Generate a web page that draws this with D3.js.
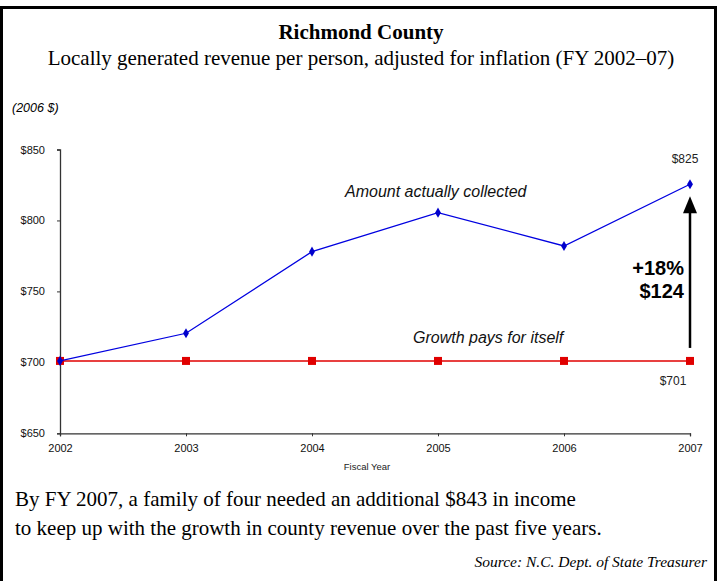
<!DOCTYPE html>
<html><head><meta charset="utf-8">
<script src="https://cdn.jsdelivr.net/npm/d3@7"></script>
<style>body{margin:0;background:#fff}svg{display:block}</style>
</head><body>
<script>
const years = [2002, 2003, 2004, 2005, 2006, 2007];
const collected = [701, 720.5, 778, 805.5, 782, 825.5];
const growthPays = [701, 701, 701, 701, 701, 701];
const yTicks = [650, 700, 750, 800, 850];

const W = 723, H = 581;
const svg = d3.select("body").append("svg").attr("width", W).attr("height", H);
svg.append("rect").attr("x",0).attr("y",0).attr("width",W).attr("height",H).attr("fill","#fff");
// frame
svg.append("rect").attr("x",1.5).attr("y",7.5).attr("width",714).attr("height",580)
  .attr("fill","none").attr("stroke","#000").attr("stroke-width",3);

const x = d3.scaleLinear().domain([2002, 2007]).range([60, 690]);
const y = d3.scaleLinear().domain([650, 850]).range([433.3, 149.5]);

const serif = "'Liberation Serif', 'DejaVu Serif', serif";
const sans = "'Liberation Sans', Arial, sans-serif";

svg.append("text").attr("x", 361).attr("y", 39).attr("text-anchor","middle")
  .style("font-family", serif).style("font-weight","bold").style("font-size","21px").text("Richmond County");
svg.append("text").attr("x", 361).attr("y", 65).attr("text-anchor","middle")
  .style("font-family", serif).style("font-size","21px").text("Locally generated revenue per person, adjusted for inflation (FY 2002–07)");
svg.append("text").attr("x", 12).attr("y", 112)
  .style("font-family", sans).style("font-style","italic").style("font-size","12.5px").text("(2006 $)");

// axes
const gy = svg.append("g").attr("transform", `translate(${x(2002)},0)`)
  .call(d3.axisLeft(y).tickValues(yTicks).tickSize(3).tickPadding(12).tickFormat(d => "$" + d));
const gx = svg.append("g").attr("transform", `translate(0,${y(650)})`)
  .call(d3.axisBottom(x).tickValues(years).tickSize(3).tickPadding(8).tickFormat(d3.format("d")));
[gx, gy].forEach(g => {
  g.select(".domain").attr("stroke", "#333").attr("stroke-width", 1.3);
  g.selectAll(".tick line").attr("stroke", "#333");
  g.selectAll("text").style("font-family", sans).style("font-size", "11px").attr("fill", "#111");
});
svg.append("text").attr("x", 367).attr("y", 470).attr("text-anchor","middle")
  .style("font-family", sans).style("font-size","9.5px").attr("fill","#222").text("Fiscal Year");

// red line
const line = d3.line().x((d,i) => x(years[i])).y(d => y(d));
svg.append("path").datum(growthPays).attr("d", line).attr("fill","none").attr("stroke","#e00000").attr("stroke-width",1.4);
svg.selectAll(".sq").data(growthPays).enter().append("rect")
  .attr("x",(d,i)=>x(years[i])-4).attr("y",d=>y(d)-4).attr("width",8).attr("height",8).attr("fill","#e00000");
// blue line
svg.append("path").datum(collected).attr("d", line).attr("fill","none").attr("stroke","#0000e0").attr("stroke-width",1.3);
svg.selectAll(".dm").data(collected).enter().append("path")
  .attr("d", d3.symbol().type(d3.symbolDiamond).size(30))
  .attr("transform",(d,i)=>`translate(${x(years[i])},${y(d)})`).attr("fill","#0000cc");

// labels
svg.append("text").attr("x", 345).attr("y", 197).style("font-family", sans).style("font-style","italic")
  .style("font-size","16px").attr("fill","#111").text("Amount actually collected");
svg.append("text").attr("x", 413).attr("y", 343).style("font-family", sans).style("font-style","italic")
  .style("font-size","16px").attr("fill","#111").text("Growth pays for itself");
svg.append("text").attr("x", x(2007)-5).attr("y", 163).attr("text-anchor","middle")
  .style("font-family", sans).style("font-size","12px").attr("fill","#222").text("$" + Math.round(collected[5] - 0.5));
svg.append("text").attr("x", x(2007)-17).attr("y", 385).attr("text-anchor","middle")
  .style("font-family", sans).style("font-size","12px").attr("fill","#222").text("$" + growthPays[5]);

// arrow
const ax = x(2007);
svg.append("line").attr("x1", ax).attr("x2", ax).attr("y1", y(701) - 13).attr("y2", y(825.5) + 26)
  .attr("stroke","#000").attr("stroke-width",2.5);
const tipY = y(825.5) + 12;
svg.append("path").attr("d", `M${ax},${tipY} L${ax-7},${tipY+17} L${ax+7},${tipY+17} Z`).attr("fill","#000");
svg.append("text").attr("x", 684).attr("y", 275).attr("text-anchor","end")
  .style("font-family", sans).style("font-weight","bold").style("font-size","20px").text("+18%");
svg.append("text").attr("x", 684).attr("y", 298).attr("text-anchor","end")
  .style("font-family", sans).style("font-weight","bold").style("font-size","20px").text("$124");

// bottom text
svg.append("text").attr("x", 15).attr("y", 506).style("font-family", serif).style("font-size","21px")
  .text("By FY 2007, a family of four needed an additional $843 in income");
svg.append("text").attr("x", 15).attr("y", 535).style("font-family", serif).style("font-size","21px")
  .text("to keep up with the growth in county revenue over the past five years.");
svg.append("text").attr("x", 707).attr("y", 567).attr("text-anchor","end").style("font-family", serif)
  .style("font-style","italic").style("font-size","15.5px").text("Source: N.C. Dept. of State Treasurer");
</script>
</body></html>
